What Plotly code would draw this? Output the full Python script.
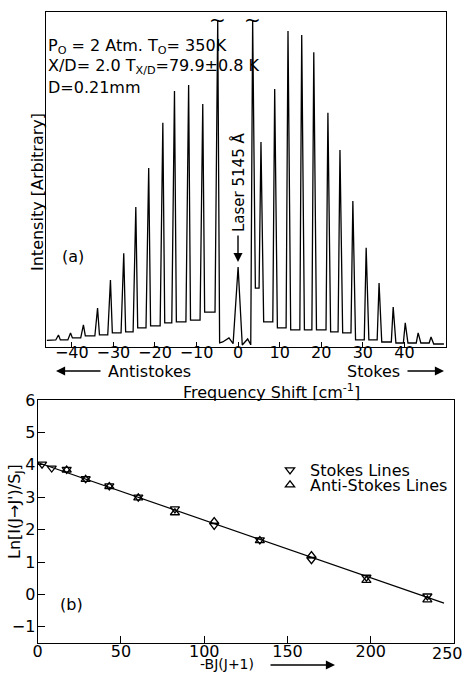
import plotly.graph_objects as go

# ---------------- Panel (a): rotational Raman spectrum ----------------
# anti-Stokes peaks (frequency shift, cm^-1), peak heights and the level of the trace at each peak's foot
as_pos = [-43.2, -40.3, -37.2, -33.8, -30.7, -27.5, -24.6, -21.5, -18.1, -15.3, -11.9, -8.5, -4.9]
as_height = [3.6, 4.2, 6.6, 11.6, 20.0, 28.0, 41.8, 53.4, 66.9, 76.4, 78.2, 72.5, 97.6]
as_base = [2.1, 2.1, 2.7, 3.3, 3.6, 4.2, 4.5, 5.7, 6.3, 7.2, 7.5, 8.0, 10.4]
as_end_base = 1.2

# region around the laser line
center_x = [-3.7, -2.2, -1.2, 0.0, 1.0, 2.3, 3.0]
center_y = [1.5, 2.7, 1.0, 23.9, 0.6, 2.4, 0.8]

# Stokes peaks
st_pos = [3.5, 5.5, 8.8, 12.0, 15.3, 18.2, 21.6, 24.5, 27.6, 30.8, 33.9, 37.3, 40.2, 43.3, 46.4]
st_height = [97.6, 61.2, 77.0, 94.3, 93.1, 88.0, 69.9, 58.8, 43.6, 29.6, 19.1, 11.9, 7.2, 4.2, 3.0]
st_base = [0.8, 17.6, 7.5, 5.7, 5.1, 5.1, 5.1, 4.5, 4.2, 2.1, 2.1, 1.5, 1.2, 1.2, 1.2]
st_end_base = 0.9

start_x, start_y = -46.0, 2.0
end_x = 49.5
broken_peaks = [-4.9, 3.5]
broken_top = 97.6

x_ticks_a = [-40, -30, -20, -10, 0, 10, 20, 30, 40]

# ---------------- Panel (b): Boltzmann plot ----------------
bj = [2.6, 8.4, 17.4, 28.8, 43.0, 60.4, 82.4, 106.0, 133.4, 164.4, 197.4, 234.0]
ln_stokes = [4.02, 3.90, 3.86, 3.57, 3.35, 3.00, 2.64, 2.13, 1.68, 1.07, 0.53, -0.05]
ln_antistokes = [None, None, 3.84, 3.55, 3.33, 2.98, 2.52, 2.25, 1.66, 1.20, 0.43, -0.17]
fit_x = [0.0, 244.0]
fit_y = [4.07, -0.27]

x_ticks_b = [0, 50, 100, 150, 200, 250]
y_ticks_b = [-1, 0, 1, 2, 3, 4, 5, 6]

# ---------------- build spectrum polyline from the read values ----------------
HW = 0.65
sx, sy = [start_x], [start_y]
for i, (p, h, b) in enumerate(zip(as_pos, as_height, as_base)):
    nb = as_base[i + 1] if i + 1 < len(as_base) else as_end_base
    sx += [p - HW, p, p + HW * 0.7]
    sy += [b, h, nb]
sx += center_x
sy += center_y
for i, (p, h, b) in enumerate(zip(st_pos, st_height, st_base)):
    nb = st_base[i + 1] if i + 1 < len(st_base) else st_end_base
    sx += [p - HW * 0.7, p, p + HW]
    sy += [b, h, nb]
sx.append(end_x)
sy.append(st_end_base)

W, H = 466, 673
FONT = "DejaVu Sans"


def px(x):
    return x / W


def py(y):
    return 1 - y / H


fig = go.Figure()
fig.add_trace(go.Scatter(x=sx, y=sy, mode="lines", line=dict(color="black", width=1.3),
                         xaxis="x", yaxis="y", showlegend=False, hoverinfo="skip"))

fig.add_trace(go.Scatter(x=fit_x, y=fit_y, mode="lines", line=dict(color="black", width=1.2),
                         xaxis="x2", yaxis="y2", showlegend=False))
fig.add_trace(go.Scatter(x=bj, y=ln_stokes, mode="markers", name="Stokes Lines", legend="legend",
                         marker=dict(symbol="triangle-down-open", size=8, color="black",
                                     line=dict(width=1.3, color="black")),
                         xaxis="x2", yaxis="y2"))
fig.add_trace(go.Scatter(x=bj, y=ln_antistokes, mode="markers", name="Anti-Stokes Lines",
                         legend="legend2",
                         marker=dict(symbol="triangle-up-open", size=8, color="black",
                                     line=dict(width=1.3, color="black")),
                         xaxis="x2", yaxis="y2"))

axis_common = dict(showline=True, linecolor="black", linewidth=1.3, mirror=True,
                   showgrid=False, zeroline=False, ticks="inside", tickcolor="black",
                   automargin=False,
                   tickfont=dict(family=FONT, size=16, color="black"))

legend_common = dict(xanchor="left", yanchor="middle", bgcolor="rgba(0,0,0,0)",
                     font=dict(family=FONT, size=16, color="black"), itemwidth=30,
                     borderwidth=0)

# the last x label of panel (b) sits at the page edge; it is written as a note below
b_ticktext = [str(v) for v in x_ticks_b[:-1]] + [""]

fig.update_layout(
    width=W, height=H,
    margin=dict(l=0, r=0, t=0, b=0),
    paper_bgcolor="white", plot_bgcolor="white",
    font=dict(family=FONT, color="black", size=16),
    xaxis=dict(domain=[px(46), px(446)], range=[-46.2, 50.0], anchor="y",
               tickvals=x_ticks_a, ticklen=5, tickwidth=1.2, ticklabelstandoff=-9,
               **axis_common),
    yaxis=dict(domain=[py(347), py(12)], range=[0, 100], anchor="x",
               showticklabels=False, ticks="", showline=True, linecolor="black",
               linewidth=1.3, mirror=True, showgrid=False, zeroline=False, automargin=False),
    xaxis2=dict(domain=[px(37.7), px(454)], range=[0, 250], anchor="y2",
                tickvals=x_ticks_b, ticktext=b_ticktext, ticklen=7, tickwidth=1.2,
                ticklabelstandoff=-6, **axis_common),
    yaxis2=dict(domain=[py(643), py(400)], range=[-1.5, 6], anchor="x2",
                tickvals=y_ticks_b, ticklen=7, tickwidth=1.2, ticklabelstandoff=-2,
                **axis_common),
    legend=dict(x=px(270), y=py(470), **legend_common),
    legend2=dict(x=px(270), y=py(485), **legend_common),
)

ann = []


def text(x, y, t, size=16, xanchor="left", angle=0):
    ann.append(dict(x=px(x), y=py(y), xref="paper", yref="paper", text=t, showarrow=False,
                    xanchor=xanchor, yanchor="middle", textangle=angle,
                    font=dict(family=FONT, size=size, color="black")))


text(46, 47, "P<sub>O</sub> = 2 Atm. T<sub>O</sub>= 350K", 16)
text(46, 67, "X/D= 2.0 T<sub>X/D</sub>=79.9±0.8 K", 16)
text(46, 88, "D=0.21mm", 16)
text(60, 256, "(a)", 16)
text(37, 192, "Intensity [Arbitrary]", 16, "center", -90)
text(106, 371, "Antistokes", 16)
text(402, 371, "Stokes", 16, "right")
text(271, 391, "Frequency Shift [cm<sup>-1</sup>]", 16, "center")
text(58, 604, "(b)", 16)
text(15, 512, "Ln[I(J→J')/S<sub>J</sub>]", 16, "center", -90)
text(227, 664, "-BJ(J+1)", 14, "center")
text(239, 183, "Laser 5145 Å", 15, "center", -90)
text(465, 653, str(x_ticks_b[-1]), 16, "right")


# arrows
def arrow(x_head, y_head, dx, dy):
    ann.append(dict(x=px(x_head), y=py(y_head), xref="paper", yref="paper", text="",
                    showarrow=True, ax=dx, ay=dy, axref="pixel", ayref="pixel",
                    arrowhead=2, arrowsize=1.3, arrowwidth=1.4, arrowcolor="black"))


arrow(56, 371, 46, 0)
arrow(444, 371, -38, 0)
arrow(335, 665, -66, 0)
arrow(238, 262, 0, -28)

# break marks on the off-scale peaks
for p in broken_peaks:
    ann.append(dict(x=p, y=broken_top, xref="x", yref="y", text="~", showarrow=False,
                    yanchor="middle", font=dict(family=FONT, size=20, color="black")))

fig.update_layout(annotations=ann)
fig.write_html("out.html", config={"displayModeBar": False},
               post_script="document.body.style.margin='0';document.body.style.padding='0';")
